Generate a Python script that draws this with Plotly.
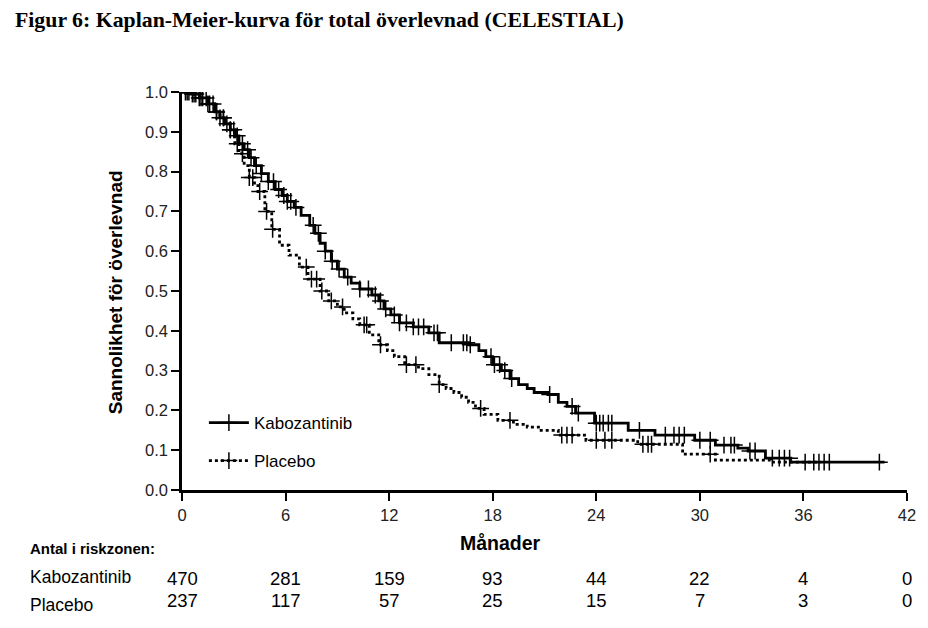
import numpy as np
import plotly.graph_objects as go

# Kaplan-Meier step curves (months, survival)
kaboTime = [0, 0.5, 1.0, 1.5, 1.9, 2.2, 2.5, 2.8, 3.1, 3.3, 3.6, 3.9, 4.2, 4.6, 5.0, 5.4, 5.8, 6.1, 6.5,
            6.9, 7.4, 7.7, 8.0, 8.3, 8.65, 9.0, 9.4, 9.8, 10.3, 11.0, 11.4, 11.7, 12.1, 12.6, 13.4,
            14.3, 14.9, 16.6, 17.2, 17.6, 18.0, 18.5, 19.0, 19.5, 20.0, 20.4, 21.2, 21.8, 22.3, 22.8,
            23.9, 25.85, 27.4, 29.7, 30.9, 32.2, 32.8, 33.8, 35.25, 40.7]
kaboSurv = [1.0, 0.995, 0.985, 0.97, 0.95, 0.935, 0.92, 0.905, 0.89, 0.87, 0.855, 0.835, 0.815, 0.795,
            0.775, 0.755, 0.74, 0.725, 0.71, 0.69, 0.665, 0.645, 0.62, 0.60, 0.575, 0.555, 0.535,
            0.52, 0.505, 0.49, 0.475, 0.455, 0.44, 0.42, 0.41, 0.395, 0.37, 0.365, 0.35, 0.335,
            0.315, 0.30, 0.28, 0.265, 0.255, 0.245, 0.24, 0.22, 0.21, 0.193, 0.168, 0.15, 0.138,
            0.125, 0.113, 0.105, 0.098, 0.08, 0.07, 0.07]

placeboTime = [0, 0.5, 1.0, 1.5, 1.9, 2.2, 2.5, 2.8, 3.06, 3.3, 3.6, 3.9, 4.2, 4.4, 4.8, 5.2, 5.65,
               6.2, 6.8, 7.3, 8.0, 8.5, 9.0, 9.4, 9.9, 10.3, 10.85, 11.4, 11.9, 12.3, 12.9, 13.7,
               14.3, 14.9, 15.3, 15.75, 16.2, 16.6, 17.0, 17.5, 18.3, 19.2, 20.0, 20.65, 21.8, 23.4,
               26.4, 29.0, 30.9, 34.1, 37.0]
placeboSurv = [1.0, 0.995, 0.985, 0.97, 0.95, 0.935, 0.92, 0.905, 0.87, 0.845, 0.815, 0.785, 0.765,
               0.75, 0.70, 0.655, 0.615, 0.59, 0.56, 0.53, 0.50, 0.475, 0.46, 0.445, 0.43, 0.415,
               0.39, 0.365, 0.35, 0.335, 0.315, 0.305, 0.29, 0.265, 0.255, 0.245, 0.233, 0.22,
               0.205, 0.19, 0.175, 0.165, 0.158, 0.15, 0.138, 0.125, 0.115, 0.09, 0.075, 0.07, 0.07]

# Censoring times (the "+" marks)
kaboCensor = [0.2, 0.4, 0.6, 0.8, 1.0, 1.2, 1.4, 1.6, 1.8, 2.0, 2.2, 2.4, 2.6, 2.8, 3.0, 3.2, 3.5,
              3.8, 4.0, 4.3, 4.6, 5.0, 5.3, 5.6, 5.9, 6.1, 6.3, 6.6, 7.6, 7.9, 8.3, 8.7, 9.1, 9.6,
              10.3, 10.8, 11.2, 11.5, 11.8, 12.3, 12.6, 13.0, 13.4, 13.7, 14.0, 14.6, 14.8, 15.6,
              16.3, 16.5, 16.7, 17.9, 18.1, 18.4, 18.7, 19.1, 21.3, 22.6, 22.96, 24.0, 24.2, 24.4,
              24.7, 24.9, 26.5, 28.0, 28.5, 28.8, 29.1, 30.0, 30.6, 31.4, 31.8, 32.0, 32.9, 33.2,
              34.2, 34.6, 34.9, 35.2, 36.1, 36.6, 36.9, 37.2, 37.5, 40.4]
placeboCensor = [0.3, 0.7, 1.1, 1.5, 2.0, 2.4, 2.8, 3.2, 3.5, 3.9, 4.1, 4.5, 4.9, 5.25, 7.2, 7.5,
                 7.8, 8.1, 8.65, 9.3, 10.55, 10.7, 11.5, 13.0, 13.55, 14.9, 17.3, 19.0, 22.0, 22.3,
                 22.6, 24.0, 24.5, 24.9, 26.7, 27.0, 27.2, 30.6]

# Number at risk
riskTimes = [0, 6, 12, 18, 24, 30, 36, 42]
kaboRisk = [470, 281, 159, 93, 44, 22, 4, 0]
placeboRisk = [237, 117, 57, 25, 15, 7, 3, 0]

fontName = "Liberation Sans, Arial, sans-serif"

# page layout (pixels in the browser window); the page body adds an 8px margin
pageOffset = 8
plotLeft, plotRight, plotTop, plotBottom = 182, 910, 92, 490
figWidth, figHeight = 928 - pageOffset, 628 - pageOffset


def survivalAt(times, surv, t):
    idx = np.searchsorted(np.array(times), t, side="right") - 1
    return [surv[i] for i in idx]


def paperX(px):
    return (px - plotLeft) / (plotRight - plotLeft)


def paperY(py):
    return (plotBottom - py) / (plotBottom - plotTop)


crossMarker = dict(symbol="cross-thin", size=12, line=dict(color="black", width=1.5))

fig = go.Figure()

fig.add_trace(go.Scatter(x=placeboTime, y=placeboSurv, mode="lines", line_shape="hv",
                         line=dict(color="black", width=2.8, dash="dot"), showlegend=False))
fig.add_trace(go.Scatter(x=kaboTime, y=kaboSurv, mode="lines", line_shape="hv",
                         line=dict(color="black", width=2.8), showlegend=False))

fig.add_trace(go.Scatter(x=placeboCensor, y=survivalAt(placeboTime, placeboSurv, placeboCensor),
                         mode="markers", showlegend=False, marker=crossMarker))
fig.add_trace(go.Scatter(x=kaboCensor, y=survivalAt(kaboTime, kaboSurv, kaboCensor),
                         mode="markers", showlegend=False, marker=crossMarker))

# legend entries, one legend each so the spacing can match
fig.add_trace(go.Scatter(x=[None], y=[None], mode="lines+markers", name="Kabozantinib",
                         line=dict(color="black", width=2.8), marker=crossMarker, legend="legend"))
fig.add_trace(go.Scatter(x=[None], y=[None], mode="lines+markers", name="Placebo",
                         line=dict(color="black", width=2.8, dash="dot"), marker=crossMarker,
                         legend="legend2"))

annotations = []
for t, k, p in zip(riskTimes, kaboRisk, placeboRisk):
    annotations.append(dict(x=t, y=paperY(578), xref="x", yref="paper", text=str(k), showarrow=False,
                            xanchor="center", yanchor="middle", font=dict(size=18.5, color="black")))
    annotations.append(dict(x=t, y=paperY(600), xref="x", yref="paper", text=str(p), showarrow=False,
                            xanchor="center", yanchor="middle", font=dict(size=18.5, color="black")))


def label(px, py, text, size, anchor="left", angle=0, family=fontName):
    return dict(x=paperX(px), y=paperY(py), xref="paper", yref="paper", xanchor=anchor,
                yanchor="middle", showarrow=False, text=text, textangle=angle,
                font=dict(size=size, color="black", family=family))


annotations += [
    label(27, 577, "Kabozantinib", 17.5),
    label(27, 605, "Placebo", 17.5),
    label(27, 548, "<b>Antal i riskzonen:</b>", 15),
    label(502, 543, "<b>Månader</b>", 19.5, anchor="center"),
    label(115, 292, "<b>Sannolikhet för överlevnad</b>", 19, anchor="center", angle=-90),
    label(12, 20, "<b>Figur 6: Kaplan-Meier-kurva för total överlevnad (CELESTIAL)</b>", 21.8,
          family="Liberation Serif, Times New Roman, serif"),
]

legendStyle = dict(xanchor="left", yanchor="middle", bgcolor="rgba(0,0,0,0)",
                   font=dict(size=17, color="black"), itemwidth=40)

fig.update_layout(
    width=figWidth, height=figHeight,
    margin=dict(l=plotLeft - pageOffset, r=figWidth - (plotRight - pageOffset),
                t=plotTop - pageOffset, b=figHeight - (plotBottom - pageOffset)),
    paper_bgcolor="white", plot_bgcolor="white",
    font=dict(family=fontName, color="black"),
    annotations=annotations,
    legend=dict(x=paperX(204), y=paperY(423), **legendStyle),
    legend2=dict(x=paperX(204), y=paperY(461), **legendStyle),
)

fig.update_xaxes(range=[0, 42], tickvals=riskTimes, showgrid=False, zeroline=False,
                 showline=True, linecolor="black", linewidth=2.5, ticks="outside", ticklen=8,
                 tickwidth=2, tickcolor="black", tickfont=dict(size=16.5, color="#222"))
fig.update_yaxes(range=[0, 1.0], tickvals=[i / 10 for i in range(11)], tickformat=".1f",
                 showgrid=False, zeroline=False, showline=True, linecolor="black", linewidth=2.5,
                 ticks="outside", ticklen=8, tickwidth=2, tickcolor="black",
                 tickfont=dict(size=16.5, color="#222"))

fig.write_html("out.html")
